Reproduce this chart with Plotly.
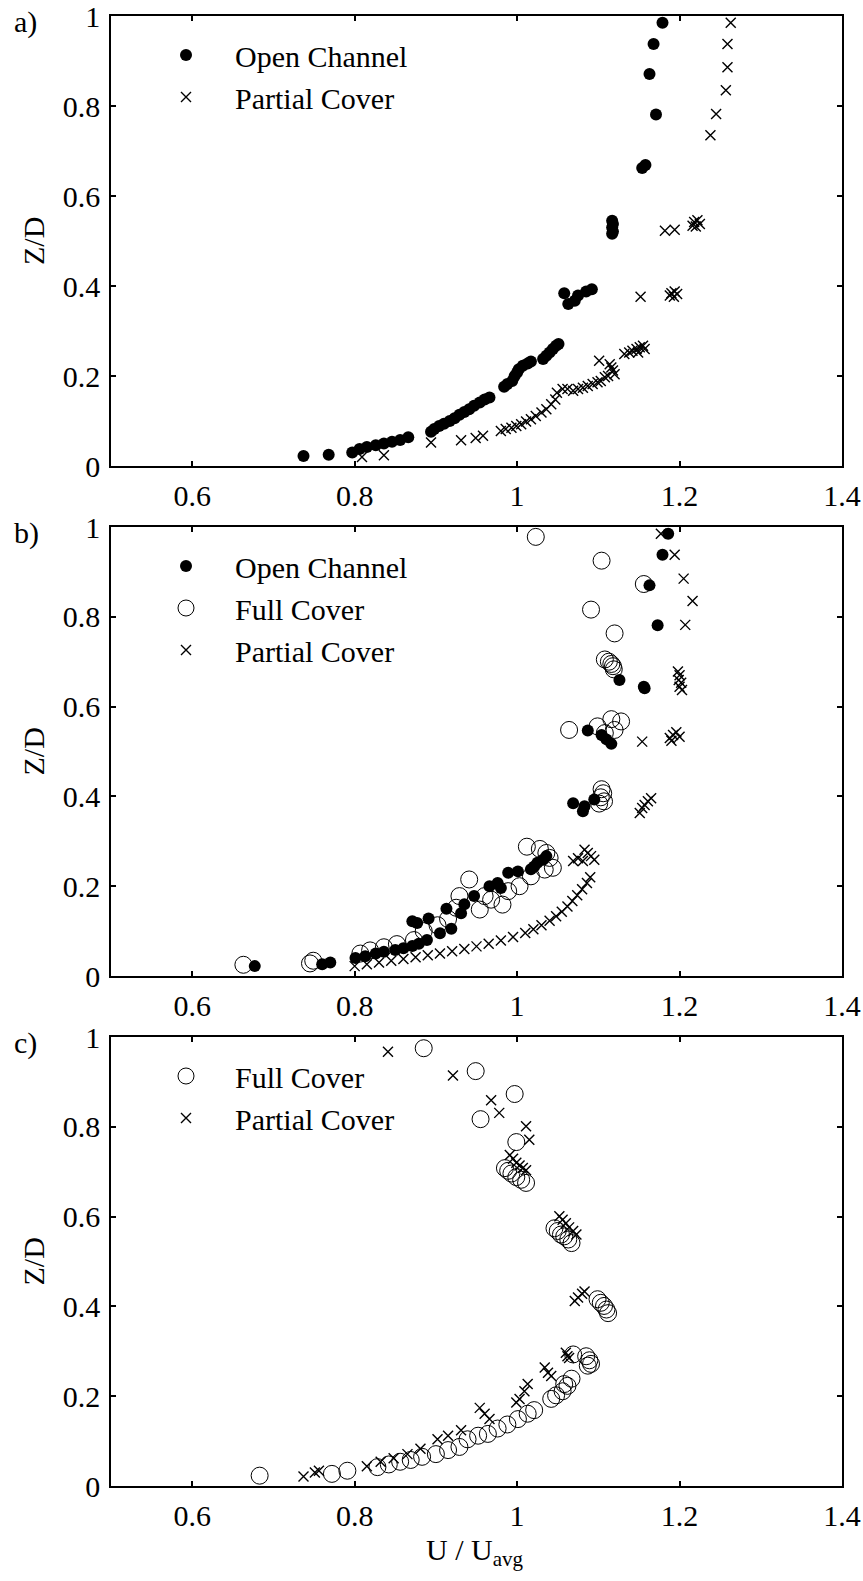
import plotly.graph_objects as go

# ---------------- data ----------------
a_open_u = [0.737, 0.768, 0.797, 0.806, 0.815, 0.826, 0.836, 0.846, 0.856, 0.866,
            0.894, 0.898, 0.904, 0.910, 0.917, 0.923, 0.929, 0.935, 0.941, 0.947, 0.954, 0.960, 0.966,
            0.984, 0.988, 0.994, 0.997, 1.000, 1.002, 1.007, 1.013, 1.017,
            1.032, 1.036, 1.040, 1.044, 1.048, 1.051,
            1.058, 1.063, 1.071, 1.075, 1.085, 1.092,
            1.117, 1.118, 1.117, 1.118, 1.117,
            1.154, 1.158,
            1.171, 1.163, 1.168, 1.179]
a_open_z = [0.022, 0.025, 0.030, 0.038, 0.042, 0.046, 0.050, 0.054, 0.058, 0.064,
            0.076, 0.082, 0.089, 0.094, 0.100, 0.106, 0.114, 0.120, 0.126, 0.134, 0.141, 0.148, 0.152,
            0.176, 0.182, 0.189, 0.200, 0.208, 0.215, 0.223, 0.228, 0.232,
            0.238, 0.245, 0.252, 0.260, 0.267, 0.271,
            0.384, 0.360, 0.367, 0.379, 0.388, 0.393,
            0.545, 0.538, 0.530, 0.521, 0.516,
            0.662, 0.669,
            0.781, 0.871, 0.938, 0.985]

a_part_u = [0.809, 0.836, 0.894, 0.931, 0.949, 0.958,
            0.980, 0.986, 0.993, 0.999, 1.005, 1.011, 1.017, 1.023, 1.030, 1.036, 1.042, 1.047,
            1.049, 1.056, 1.062, 1.069, 1.075, 1.081, 1.087, 1.093, 1.099, 1.103,
            1.108, 1.112, 1.120, 1.118, 1.116, 1.114, 1.101,
            1.132, 1.138, 1.142, 1.147, 1.151, 1.155, 1.157, 1.149,
            1.152, 1.188, 1.190, 1.194, 1.197, 1.193,
            1.182, 1.194, 1.216, 1.218, 1.220, 1.222, 1.225,
            1.238, 1.245, 1.257, 1.259, 1.259, 1.263]
a_part_z = [0.020, 0.024, 0.052, 0.057, 0.062, 0.067,
            0.078, 0.082, 0.085, 0.089, 0.093, 0.099, 0.104, 0.111, 0.119, 0.126, 0.137, 0.148,
            0.163, 0.171, 0.171, 0.167, 0.171, 0.174, 0.178, 0.182, 0.186, 0.189,
            0.197, 0.200, 0.204, 0.212, 0.219, 0.226, 0.234,
            0.249, 0.252, 0.256, 0.260, 0.264, 0.267, 0.260, 0.252,
            0.376, 0.379, 0.384, 0.388, 0.382, 0.376,
            0.523, 0.525, 0.534, 0.542, 0.532, 0.546, 0.538,
            0.735, 0.782, 0.835, 0.886, 0.938, 0.985]

b_open_u = [0.677, 0.760, 0.770, 0.801, 0.813, 0.826, 0.836, 0.850, 0.860, 0.871, 0.879, 0.889, 0.871, 0.877, 0.891,
            0.905, 0.913, 0.919, 0.931, 0.935, 0.947, 0.966, 0.976, 0.980, 0.989, 1.001, 1.017, 1.021, 1.025, 1.032, 1.036,
            1.069, 1.081, 1.083, 1.095,
            1.087, 1.104, 1.110, 1.116,
            1.126, 1.156, 1.157,
            1.173, 1.163, 1.179, 1.186]
b_open_z = [0.022, 0.026, 0.030, 0.040, 0.044, 0.050, 0.054, 0.058, 0.062, 0.067, 0.072, 0.080, 0.122, 0.118, 0.128,
            0.095, 0.150, 0.105, 0.140, 0.160, 0.178, 0.200, 0.207, 0.196, 0.230, 0.233, 0.238, 0.244, 0.252, 0.259, 0.267,
            0.385, 0.367, 0.378, 0.393,
            0.547, 0.537, 0.527, 0.517,
            0.659, 0.644, 0.641,
            0.781, 0.870, 0.938, 0.985]

b_full_u = [0.663, 0.745, 0.749, 0.807, 0.819, 0.836, 0.852, 0.873, 0.885, 0.902, 0.915, 0.925, 0.929, 0.941, 0.954,
            0.960, 0.968, 0.982, 0.989, 1.003, 1.017, 1.034, 1.044, 1.040, 1.036, 1.028, 1.012,
            1.101, 1.103, 1.106, 1.104, 1.107,
            1.064, 1.099, 1.108, 1.116, 1.120, 1.128,
            1.108, 1.113, 1.116, 1.118, 1.119,
            1.120, 1.091, 1.156, 1.104, 1.023]
b_full_z = [0.025, 0.028, 0.034, 0.050, 0.057, 0.064, 0.071, 0.080, 0.100, 0.113, 0.127, 0.152, 0.178, 0.215, 0.148,
            0.178, 0.170, 0.159, 0.189, 0.200, 0.222, 0.237, 0.241, 0.263, 0.274, 0.283, 0.288,
            0.384, 0.398, 0.407, 0.416, 0.389,
            0.548, 0.556, 0.541, 0.572, 0.548, 0.567,
            0.705, 0.700, 0.695, 0.690, 0.683,
            0.763, 0.816, 0.873, 0.925, 0.978]

b_part_u = [0.800, 0.815, 0.830, 0.845, 0.860, 0.875, 0.890, 0.905, 0.920, 0.935, 0.950, 0.965, 0.980, 0.995,
            1.010, 1.020, 1.030, 1.040, 1.048, 1.055, 1.062, 1.068, 1.074, 1.080, 1.086, 1.090,
            1.069, 1.075, 1.081, 1.083, 1.087, 1.091, 1.095,
            1.151, 1.154, 1.157, 1.161, 1.165,
            1.154, 1.188, 1.190, 1.192, 1.196, 1.200,
            1.198, 1.200, 1.199, 1.202, 1.200, 1.203,
            1.207, 1.216, 1.205, 1.194, 1.177]
b_part_z = [0.022, 0.026, 0.030, 0.034, 0.038, 0.042, 0.046, 0.050, 0.055, 0.060, 0.066, 0.072, 0.079, 0.087,
            0.096, 0.104, 0.113, 0.123, 0.133, 0.143, 0.155, 0.167, 0.180, 0.193, 0.207, 0.220,
            0.256, 0.262, 0.256, 0.281, 0.274, 0.267, 0.259,
            0.363, 0.374, 0.381, 0.389, 0.396,
            0.522, 0.530, 0.524, 0.537, 0.543, 0.533,
            0.678, 0.670, 0.659, 0.653, 0.644, 0.637,
            0.782, 0.835, 0.885, 0.938, 0.985]

c_full_u = [0.683, 0.772, 0.791, 0.828, 0.842, 0.856, 0.869, 0.883, 0.900, 0.915, 0.929, 0.939, 0.952, 0.964, 0.976,
            0.988, 1.001, 1.013, 1.021, 1.042, 1.048, 1.056, 1.058, 1.062, 1.067, 1.069, 1.085, 1.087, 1.089, 1.091,
            1.099, 1.103, 1.107, 1.110, 1.112,
            1.046, 1.050, 1.054, 1.058, 1.063, 1.067,
            0.985, 0.989, 0.993, 0.999, 1.005, 1.011,
            0.999, 0.955, 0.997, 0.949, 0.885]
c_full_z = [0.023, 0.027, 0.034, 0.042, 0.048, 0.054, 0.058, 0.065, 0.071, 0.080, 0.087, 0.104, 0.112, 0.116, 0.128,
            0.137, 0.149, 0.161, 0.169, 0.194, 0.202, 0.211, 0.227, 0.223, 0.239, 0.293, 0.289, 0.268, 0.280, 0.272,
            0.416, 0.408, 0.401, 0.393, 0.385,
            0.574, 0.568, 0.560, 0.556, 0.549, 0.541,
            0.708, 0.702, 0.696, 0.688, 0.682, 0.675,
            0.766, 0.817, 0.873, 0.924, 0.975]

c_part_u = [0.737, 0.751, 0.756, 0.815, 0.832, 0.848, 0.865, 0.881, 0.902, 0.915, 0.931, 0.954, 0.960, 0.966,
            0.999, 1.003, 1.009, 1.013, 1.034, 1.038, 1.042, 1.060, 1.062, 1.064,
            1.071, 1.075, 1.080, 1.083,
            1.052, 1.056, 1.060, 1.064, 1.069, 1.073,
            0.991, 0.995, 0.999, 1.003, 1.007, 1.011,
            1.015, 1.011, 0.978, 0.968, 0.921, 0.841]
c_part_z = [0.021, 0.030, 0.034, 0.044, 0.054, 0.062, 0.071, 0.083, 0.104, 0.112, 0.124, 0.174, 0.161, 0.149,
            0.186, 0.194, 0.211, 0.227, 0.264, 0.252, 0.245, 0.297, 0.289, 0.285,
            0.412, 0.420, 0.428, 0.433,
            0.601, 0.593, 0.585, 0.576, 0.568, 0.560,
            0.737, 0.729, 0.720, 0.714, 0.708, 0.703,
            0.771, 0.801, 0.831, 0.859, 0.914, 0.967]

x_tickvals = [0.6, 0.8, 1.0, 1.2, 1.4]
x_ticktext = ["0.6", "0.8", "1", "1.2", "1.4"]
y_tickvals = [0, 0.2, 0.4, 0.6, 0.8, 1.0]
y_ticktext = ["0", "0.2", "0.4", "0.6", "0.8", "1"]
panel_labels = ["a)", "b)", "c)"]

# ---------------- styling ----------------
FONT = "Liberation Serif, Times New Roman, serif"
FS = 30
W, H = 863, 1581
ML, MR, MT, MB = 111, 21, 16, 95
PW = W - ML - MR
PH = H - MT - MB
panel_px = [(16, 466), (527, 976), (1037, 1486)]  # top, bottom pixel rows
domains = [[(MT + PH - b) / PH, (MT + PH - t) / PH] for t, b in panel_px]
domains = [[max(0, d0), min(1, d1)] for d0, d1 in domains]

open_style = dict(mode="markers", marker=dict(symbol="circle", size=12, color="black", line=dict(width=0)))
full_style = dict(mode="markers", marker=dict(symbol="circle-open", size=17, color="black", line=dict(width=1, color="black")))
part_style = dict(mode="markers", marker=dict(symbol="x-thin-open", size=10, color="black", line=dict(width=1.4, color="black")))

fig = go.Figure()
legends = ["legend", "legend2", "legend3"]

def add(idx, name, u, z, style):
    ax = "" if idx == 0 else str(idx + 1)
    fig.add_trace(go.Scatter(x=u, y=z, name=name, xaxis="x" + ax, yaxis="y" + ax,
                             legend=legends[idx], showlegend=True, **style))

add(0, "Open Channel", a_open_u, a_open_z, open_style)
add(0, "Partial Cover", a_part_u, a_part_z, part_style)
add(1, "Open Channel", b_open_u, b_open_z, open_style)
add(1, "Full Cover", b_full_u, b_full_z, full_style)
add(1, "Partial Cover", b_part_u, b_part_z, part_style)
add(2, "Full Cover", c_full_u, c_full_z, full_style)
add(2, "Partial Cover", c_part_u, c_part_z, part_style)

axis_common = dict(showline=True, linecolor="black", linewidth=1.5, mirror="ticks",
                   ticks="inside", ticklen=5, tickwidth=1.5, tickcolor="black",
                   showgrid=False, zeroline=False, automargin=False,
                   ticklabeloverflow="allow",
                   tickfont=dict(family=FONT, size=FS, color="black"))

layout = dict(width=W, height=H, margin=dict(l=ML, r=MR, t=MT, b=MB, autoexpand=False),
              paper_bgcolor="white", plot_bgcolor="white",
              font=dict(family=FONT, size=FS, color="black"),
              showlegend=True)

annotations = []
for i in range(3):
    ax = "" if i == 0 else str(i + 1)
    layout["xaxis" + ax] = dict(axis_common, range=[0.5, 1.4], tickvals=x_tickvals, ticktext=x_ticktext,
                                anchor="y" + ax, domain=[0, 1], ticklabelstandoff=2)
    layout["yaxis" + ax] = dict(axis_common, range=[0, 1], tickvals=y_tickvals, ticktext=y_ticktext,
                                anchor="x" + ax, domain=domains[i], ticklabelstandoff=3)
    top = domains[i][1]
    lg = dict(x=(137 - ML) / PW, y=top - 13 / PH, xanchor="left", yanchor="top",
              bgcolor="rgba(0,0,0,0)", borderwidth=0, font=dict(family=FONT, size=FS, color="black"),
              itemwidth=88, tracegroupgap=0, itemclick=False)
    layout[legends[i]] = lg
    annotations.append(dict(text=panel_labels[i], xref="paper", yref="paper",
                            x=(12 - ML) / PW, y=top, xanchor="left", yanchor="middle", yshift=-6,
                            showarrow=False, font=dict(family=FONT, size=FS, color="black")))
    annotations.append(dict(text="Z/D", xref="paper", yref="paper", textangle=-90,
                            x=(33 - ML) / PW, y=(domains[i][0] + domains[i][1]) / 2,
                            xanchor="center", yanchor="middle", showarrow=False,
                            font=dict(family=FONT, size=FS, color="black")))

annotations.append(dict(text="U / U<sub>avg</sub>", xref="paper", yref="paper",
                        x=(474 - ML) / PW, y=(MT + PH - 1552) / PH,
                        xanchor="center", yanchor="middle", showarrow=False,
                        font=dict(family=FONT, size=FS, color="black")))
layout["annotations"] = annotations

fig.update_layout(**layout)
fig.write_html("out.html")
